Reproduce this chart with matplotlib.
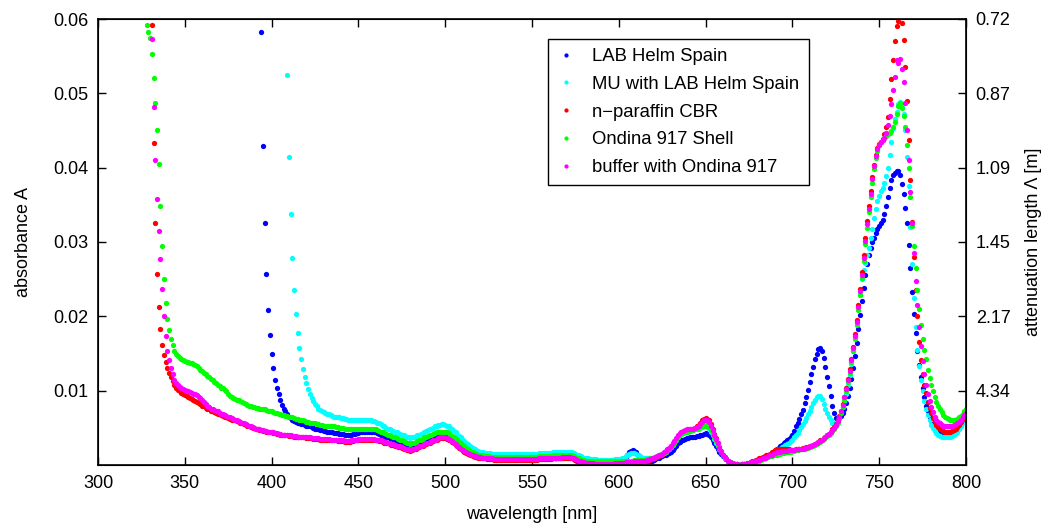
import numpy as np
import matplotlib
matplotlib.use("Agg")
import matplotlib.pyplot as plt

plt.rcParams['font.family'] = ['Liberation Sans', 'DejaVu Sans']

# absorbance values in units of 1e-4, one value per nm starting at *_start
lab_start = 394
lab = [
    582, 429, 326, 257, 209, 175, 149,
    130, 115, 104, 95, 87, 81, 76, 72, 68, 65,
    63, 61, 59, 58, 57, 56, 55, 55, 54, 53,
    52, 52, 51, 50, 49, 49, 48, 47, 47, 46,
    46, 45, 45, 44, 44, 43, 43, 43, 42, 42,
    42, 41, 41, 41, 41, 41, 42, 42, 43, 43,
    44, 44, 45, 45, 45, 45, 45, 45, 44, 44,
    43, 42, 41, 40, 39, 38, 37, 36, 35, 34,
    33, 32, 31, 30, 30, 29, 28, 27, 26, 25,
    26, 27, 28, 29, 30, 31, 32, 34, 35, 36,
    37, 38, 39, 40, 41, 42, 43, 43, 43, 43,
    42, 41, 39, 37, 36, 34, 32, 30, 28, 26,
    24, 22, 20, 18, 17, 16, 15, 14, 13, 12,
    12, 11, 11, 10, 10, 10, 10, 10, 11, 11,
    11, 11, 10, 10, 9, 9, 9, 9, 9, 9,
    9, 9, 9, 9, 9, 9, 9, 9, 9, 9,
    9, 9, 9, 9, 9, 9, 9, 9, 9, 9,
    9, 10, 10, 10, 10, 10, 11, 11, 11, 11,
    11, 10, 9, 8, 7, 6, 5, 4, 3, 3,
    2, 2, 2, 2, 2, 2, 2, 2, 2, 2,
    2, 2, 2, 2, 3, 3, 3, 3, 4, 4,
    5, 6, 8, 11, 14, 17, 19, 20, 19, 17,
    14, 11, 8, 6, 5, 5, 5, 6, 6, 7,
    8, 9, 10, 11, 12, 13, 14, 15, 16, 18,
    20, 23, 26, 29, 31, 33, 34, 35, 36, 36,
    37, 37, 38, 38, 39, 39, 40, 41, 42, 43,
    42, 41, 38, 34, 30, 26, 22, 18, 15, 12,
    10, 8, 6, 4, 3, 2, 1, 1, 0, 0,
    1, 1, 2, 2, 3, 4, 4, 5, 6, 7,
    8, 9, 10, 11, 12, 13, 14, 15, 17, 19,
    21, 23, 25, 27, 29, 31, 33, 35, 37, 40,
    46, 52, 57, 62, 68, 74, 83, 92, 101, 112,
    122, 132, 142, 150, 156, 157, 153, 144, 132, 119,
    106, 93, 80, 70, 63, 62, 63, 66, 70, 76,
    84, 93, 104, 116, 130, 146, 164, 183, 202, 220,
    238, 255, 270, 282, 292, 300, 306, 312, 318, 322,
    325, 330, 338, 348, 360, 373, 384, 390, 393, 395,
    395, 390, 378, 364, 346, 325, 296, 265, 233, 203,
    177, 154, 134, 118, 104, 91, 80, 72, 65, 59,
    54, 50, 47, 45, 43, 42, 41, 40, 40, 40,
    41, 42, 43, 45, 47, 50, 54, 58, 62, 66,
]

mu_start = 409
mu = [
    525, 415,
    337, 279, 236, 203, 178, 158, 142, 129, 119, 110,
    102, 96, 90, 86, 82, 79, 76, 74, 72, 71,
    70, 69, 68, 67, 66, 65, 65, 64, 64, 63,
    63, 62, 62, 61, 61, 60, 60, 60, 60, 60,
    60, 60, 60, 60, 60, 60, 60, 59, 59, 58,
    57, 56, 55, 53, 52, 50, 49, 48, 47, 46,
    45, 44, 43, 42, 41, 40, 39, 38, 37, 36,
    37, 38, 39, 40, 41, 42, 43, 45, 46, 47,
    48, 49, 50, 52, 53, 54, 54, 55, 55, 54,
    53, 52, 50, 48, 46, 44, 41, 39, 37, 34,
    32, 30, 28, 26, 24, 23, 21, 20, 19, 18,
    17, 17, 16, 16, 16, 16, 15, 15, 15, 15,
    15, 15, 15, 15, 15, 15, 15, 15, 15, 15,
    15, 15, 15, 15, 15, 15, 15, 15, 15, 15,
    15, 15, 15, 16, 16, 16, 16, 16, 16, 16,
    16, 17, 17, 17, 17, 17, 18, 18, 18, 18,
    18, 18, 17, 16, 15, 14, 13, 12, 11, 10,
    9, 9, 8, 8, 8, 8, 8, 7, 7, 7,
    7, 7, 7, 7, 7, 7, 7, 8, 8, 8,
    8, 9, 10, 12, 13, 15, 16, 16, 16, 15,
    13, 12, 11, 10, 9, 9, 9, 10, 10, 10,
    11, 12, 13, 14, 15, 16, 18, 20, 22, 24,
    27, 30, 34, 37, 40, 42, 43, 44, 45, 46,
    46, 47, 47, 48, 48, 49, 50, 51, 52, 52,
    51, 49, 45, 40, 35, 30, 26, 21, 17, 13,
    10, 8, 6, 4, 3, 2, 1, 1, 0, 0,
    1, 1, 2, 2, 3, 3, 4, 5, 5, 6,
    7, 8, 9, 10, 11, 12, 13, 14, 16, 18,
    19, 21, 22, 24, 25, 27, 28, 30, 32, 34,
    37, 40, 43, 47, 51, 55, 59, 63, 68, 73,
    78, 83, 88, 91, 93, 93, 89, 82, 76, 70,
    64, 60, 57, 56, 57, 60, 65, 71, 78, 86,
    96, 108, 121, 136, 153, 172, 192, 212, 232, 250,
    262, 272, 282, 292, 305, 318, 332, 345, 355, 362,
    368, 373, 379, 389, 399, 417, 435, 453, 465, 475,
    485, 489, 484, 472, 450, 415, 375, 320, 270, 225,
    185, 155, 133, 114, 99, 86, 76, 67, 60, 54,
    50, 46, 43, 41, 39, 38, 37, 37, 37, 37,
    38, 39, 41, 43, 45, 48, 52, 56, 60, 64,
]

paraffin_start = 331
paraffin = [
    592, 433, 326, 257, 212, 183, 162, 148, 139, 131,
    124, 118, 113, 108, 104, 101, 99, 97, 95, 94,
    93, 92, 90, 89, 88, 86, 85, 83, 82, 80,
    79, 77, 76, 75, 73, 72, 71, 70, 69, 68,
    67, 66, 65, 64, 63, 62, 61, 61, 60, 59,
    58, 57, 56, 55, 54, 53, 52, 51, 50, 50,
    49, 48, 47, 47, 46, 46, 45, 45, 44, 44,
    43, 43, 42, 42, 41, 41, 40, 40, 40, 39,
    39, 39, 38, 38, 38, 37, 37, 37, 37, 36,
    36, 36, 36, 35, 35, 35, 35, 34, 34, 34,
    34, 34, 34, 33, 33, 33, 33, 32, 32, 32,
    32, 31, 31, 31, 31, 32, 32, 33, 33, 34,
    34, 34, 34, 34, 34, 34, 34, 34, 34, 33,
    33, 32, 32, 31, 30, 30, 29, 28, 27, 27,
    26, 25, 24, 24, 23, 22, 21, 20, 20, 19,
    20, 21, 22, 23, 24, 25, 26, 27, 28, 29,
    30, 31, 32, 33, 34, 35, 36, 36, 36, 36,
    35, 34, 33, 31, 29, 27, 25, 23, 21, 19,
    18, 16, 15, 14, 13, 12, 11, 11, 10, 10,
    9, 9, 9, 8, 8, 8, 8, 7, 7, 7,
    7, 7, 7, 7, 7, 7, 7, 7, 7, 7,
    7, 7, 7, 7, 7, 7, 7, 7, 7, 7,
    7, 7, 7, 8, 8, 8, 8, 8, 8, 8,
    8, 9, 9, 9, 9, 9, 10, 10, 10, 10,
    10, 10, 9, 8, 7, 6, 5, 4, 3, 3,
    2, 2, 2, 2, 2, 1, 1, 1, 1, 1,
    1, 1, 1, 1, 1, 1, 1, 2, 2, 2,
    2, 2, 2, 3, 3, 3, 3, 3, 4, 4,
    4, 4, 5, 5, 5, 6, 6, 7, 8, 9,
    10, 11, 12, 13, 14, 16, 18, 20, 22, 25,
    28, 31, 35, 39, 42, 44, 45, 46, 47, 47,
    48, 48, 49, 50, 52, 54, 57, 60, 62, 63,
    62, 60, 55, 49, 42, 36, 30, 24, 19, 14,
    11, 8, 6, 4, 3, 2, 1, 1, 0, 0,
    1, 1, 2, 3, 3, 4, 5, 6, 7, 8,
    9, 10, 11, 12, 13, 14, 15, 17, 18, 20,
    21, 22, 22, 22, 22, 21, 21, 21, 20, 20,
    20, 21, 21, 22, 22, 23, 23, 24, 24, 25,
    26, 27, 28, 30, 31, 33, 34, 36, 38, 40,
    42, 45, 48, 51, 55, 60, 66, 73, 82, 92,
    104, 116, 129, 143, 159, 176, 195, 215, 237, 260,
    283, 306, 328, 348, 368, 387, 404, 417, 426, 432,
    435, 438, 445, 455, 468, 493, 519, 545, 570, 591,
    597, 605, 595, 572, 536, 490, 437, 384, 327, 280,
    236, 200, 166, 141, 123, 108, 97, 85, 77, 70,
    63, 58, 54, 51, 49, 47, 46, 45, 45, 45,
    45, 46, 47, 49, 51, 54, 58, 62, 66, 70,
]

ondina_start = 328
ondina = [
    592, 582, 575,
    553, 520, 487, 450, 405, 349, 295, 250, 218, 197,
    181, 170, 161, 154, 150, 146, 144, 142, 141, 140,
    139, 138, 137, 137, 136, 135, 133, 130, 128, 126,
    124, 122, 120, 118, 116, 114, 112, 110, 108, 106,
    104, 103, 101, 99, 96, 93, 91, 90, 89, 88,
    87, 86, 85, 84, 82, 81, 80, 79, 78, 78,
    77, 77, 76, 76, 75, 75, 74, 73, 72, 72,
    71, 70, 70, 69, 68, 67, 67, 66, 66, 65,
    64, 64, 63, 62, 62, 61, 60, 60, 59, 58,
    58, 57, 57, 56, 56, 55, 55, 54, 54, 53,
    53, 53, 53, 52, 52, 52, 51, 51, 50, 50,
    50, 49, 49, 48, 48, 48, 48, 48, 48, 48,
    48, 49, 49, 49, 49, 49, 49, 49, 48, 48,
    47, 46, 45, 44, 43, 42, 41, 40, 39, 38,
    37, 36, 35, 34, 33, 32, 31, 30, 29, 28,
    29, 30, 31, 32, 33, 34, 35, 37, 38, 39,
    40, 41, 42, 43, 44, 45, 45, 45, 45, 45,
    44, 43, 41, 39, 37, 35, 33, 31, 29, 27,
    25, 23, 21, 19, 18, 17, 16, 15, 14, 14,
    13, 13, 12, 12, 12, 11, 11, 11, 11, 11,
    11, 11, 11, 11, 11, 11, 11, 11, 11, 11,
    11, 11, 11, 11, 11, 11, 11, 11, 11, 11,
    11, 11, 11, 12, 12, 12, 12, 12, 12, 12,
    12, 13, 13, 13, 13, 13, 14, 14, 14, 14,
    14, 14, 13, 12, 11, 10, 9, 8, 7, 7,
    6, 6, 6, 6, 6, 5, 5, 5, 5, 5,
    5, 5, 5, 5, 5, 5, 5, 5, 5, 5,
    5, 5, 6, 6, 6, 6, 6, 6, 7, 7,
    7, 7, 7, 7, 7, 8, 8, 9, 9, 10,
    11, 12, 13, 14, 15, 16, 18, 20, 22, 24,
    27, 30, 34, 37, 40, 42, 43, 44, 45, 46,
    46, 47, 47, 48, 49, 50, 51, 52, 53, 54,
    53, 51, 47, 42, 37, 32, 27, 22, 17, 13,
    10, 8, 6, 4, 3, 2, 1, 1, 0, 0,
    1, 1, 2, 2, 3, 3, 4, 4, 5, 6,
    6, 7, 8, 9, 10, 11, 12, 12, 13, 14,
    14, 15, 15, 16, 16, 17, 17, 18, 18, 19,
    19, 20, 20, 21, 21, 22, 22, 23, 23, 24,
    25, 26, 27, 28, 30, 31, 33, 35, 37, 39,
    41, 43, 46, 49, 53, 57, 63, 70, 78, 88,
    99, 111, 124, 138, 153, 170, 188, 208, 229, 251,
    274, 297, 319, 340, 360, 380, 398, 413, 423, 430,
    434, 437, 440, 443, 445, 447, 449, 455, 462, 472,
    483, 487, 480, 470, 455, 430, 400, 360, 322, 295,
    265, 236, 210, 188, 170, 155, 142, 128, 117, 108,
    100, 92, 85, 80, 75, 71, 67, 65, 63, 62,
    61, 61, 61, 61, 62, 64, 66, 69, 72, 76,
]

buffer_start = 331
buffer = [
    573, 482, 410, 358, 315, 277, 237, 201, 173, 154,
    141, 130, 123, 115, 110, 107, 105, 103, 102, 101,
    100, 99, 98, 97, 96, 95, 94, 92, 90, 88,
    85, 82, 80, 78, 76, 75, 74, 73, 72, 70,
    69, 68, 67, 66, 65, 64, 63, 62, 61, 60,
    59, 58, 57, 56, 55, 54, 53, 52, 51, 50,
    49, 48, 48, 47, 47, 46, 46, 45, 45, 44,
    44, 43, 43, 42, 42, 41, 41, 41, 40, 40,
    40, 39, 39, 39, 38, 38, 38, 38, 37, 37,
    37, 37, 36, 36, 36, 36, 36, 35, 35, 35,
    35, 35, 35, 34, 34, 34, 34, 33, 33, 33,
    33, 32, 32, 32, 32, 33, 33, 34, 34, 35,
    35, 35, 35, 35, 35, 35, 35, 35, 35, 34,
    34, 33, 33, 32, 31, 31, 30, 29, 28, 28,
    27, 26, 25, 25, 24, 23, 22, 21, 21, 20,
    21, 22, 23, 24, 25, 26, 27, 28, 29, 30,
    31, 32, 33, 34, 35, 36, 37, 37, 37, 37,
    36, 35, 34, 32, 30, 28, 26, 24, 22, 20,
    19, 17, 16, 15, 14, 13, 12, 12, 11, 11,
    10, 10, 10, 9, 9, 9, 9, 8, 8, 8,
    8, 8, 8, 8, 8, 8, 8, 8, 8, 8,
    8, 8, 8, 8, 8, 8, 8, 8, 8, 8,
    8, 8, 8, 9, 9, 9, 9, 9, 9, 9,
    9, 10, 10, 10, 10, 10, 11, 11, 11, 11,
    11, 11, 10, 9, 8, 7, 6, 5, 4, 4,
    3, 3, 3, 3, 3, 2, 2, 2, 2, 2,
    2, 2, 2, 2, 2, 2, 2, 3, 3, 3,
    3, 3, 3, 4, 4, 4, 4, 4, 5, 5,
    5, 5, 6, 6, 6, 7, 7, 8, 9, 10,
    11, 12, 13, 14, 15, 17, 19, 21, 23, 26,
    29, 32, 36, 40, 43, 45, 46, 47, 48, 48,
    48, 49, 49, 50, 51, 53, 55, 58, 60, 61,
    60, 58, 53, 47, 41, 35, 29, 23, 18, 14,
    11, 8, 6, 4, 3, 2, 1, 1, 0, 0,
    1, 1, 2, 2, 3, 4, 4, 5, 6, 7,
    7, 8, 9, 10, 11, 12, 13, 14, 15, 16,
    17, 18, 18, 19, 19, 19, 19, 20, 20, 20,
    20, 21, 21, 22, 22, 22, 23, 23, 24, 25,
    26, 27, 28, 29, 31, 32, 34, 36, 38, 40,
    42, 44, 47, 50, 54, 59, 65, 72, 81, 91,
    102, 114, 127, 141, 157, 174, 192, 212, 234, 256,
    279, 302, 324, 345, 365, 385, 402, 416, 425, 431,
    434, 437, 440, 447, 458, 470, 486, 505, 522, 545,
    541, 546, 533, 515, 487, 451, 410, 367, 325, 285,
    248, 215, 186, 160, 140, 122, 108, 96, 86, 78,
    71, 65, 61, 58, 56, 54, 53, 52, 52, 52,
    52, 53, 54, 55, 56, 58, 61, 64, 67, 70,
]

names = ["LAB Helm Spain", "MU with LAB Helm Spain", "n\u2212paraffin CBR",
         "Ondina 917 Shell", "buffer with Ondina 917"]
colors = ["#0000ff", "#00ffff", "#ff0000", "#00ff00", "#ff00ff"]
series = [(lab_start, lab), (mu_start, mu), (paraffin_start, paraffin),
          (ondina_start, ondina), (buffer_start, buffer)]

x_ticks = [300, 350, 400, 450, 500, 550, 600, 650, 700, 750, 800]
y_ticks = [0.01, 0.02, 0.03, 0.04, 0.05, 0.06]
y_labels = ["0.01", "0.02", "0.03", "0.04", "0.05", "0.06"]
right_labels = ["4.34", "2.17", "1.45", "1.09", "0.87", "0.72"]

fig = plt.figure(figsize=(10.46, 5.29), dpi=100)
ax = fig.add_axes([98 / 1046, 64 / 529, 868 / 1046, 446 / 529])

for (start, vals), name, col in zip(series, names, colors):
    wl = start + np.arange(len(vals))
    ax.plot(wl, np.array(vals) * 1e-4, linestyle="none", marker="o",
            markersize=3.8, markeredgewidth=0, color=col, label=name)

ax.set_xlim(300, 800)
ax.set_ylim(0, 0.06)
ax.set_xticks(x_ticks)
ax.set_yticks(y_ticks)
ax.set_yticklabels(y_labels)
ax.tick_params(direction="in", length=6, width=1, top=True, right=False,
               labelsize=13, pad=7)
for s in ax.spines.values():
    s.set_linewidth(1.2)
ax.set_xlabel("wavelength [nm]", fontsize=13, labelpad=10)
ax.set_ylabel("absorbance A", fontsize=13, labelpad=15)

ax2 = ax.twinx()
ax2.set_ylim(0, 0.06)
ax2.set_yticks(y_ticks)
ax2.set_yticklabels(right_labels)
ax2.tick_params(direction="in", length=6, width=1, labelsize=13, pad=7)
ax2.set_ylabel("attenuation length \u039b [m]", fontsize=13, labelpad=10)

leg = ax.legend(loc="upper left", bbox_to_anchor=(548 / 1046, 1 - 39 / 529),
                bbox_transform=fig.transFigure, borderaxespad=0, fontsize=13.3,
                frameon=True, fancybox=False, framealpha=1, edgecolor="black",
                handlelength=1.0, handletextpad=0.9, labelspacing=0.58,
                borderpad=0.5, markerscale=0.8)
leg.get_frame().set_linewidth(1.0)

fig.savefig("out.png", dpi=100)
